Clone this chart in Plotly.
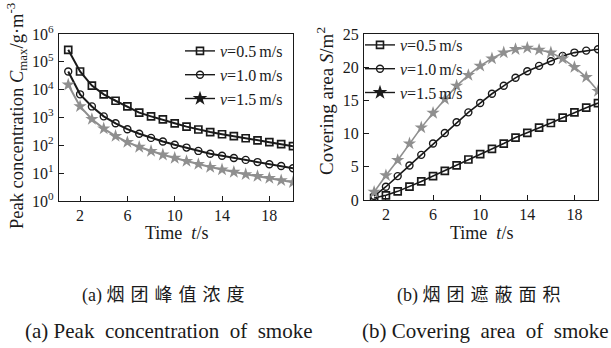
import plotly.graph_objects as go

t = list(range(1, 21))

# Panel (a): peak concentration (g/m^3)
conc_v05 = [2.7e5, 4.5e4, 1.4e4, 6.8e3, 4.0e3, 2.5e3, 1.5e3, 1.1e3, 850, 620,
            470, 370, 300, 250, 215, 180, 150, 130, 110, 93]
conc_v10 = [4.5e4, 6.8e3, 2.5e3, 1.1e3, 620, 380, 260, 185, 138, 105,
            83, 63, 50, 42, 35, 30, 25, 21, 18, 15]
conc_v15 = [1.5e4, 2.5e3, 870, 400, 215, 130, 87, 62, 46, 35,
            27, 21, 16.6, 13.5, 11, 9.1, 7.8, 6.6, 5.5, 4.7]

# Panel (b): covering area (m^2)
area_v05 = [0.3, 0.7, 1.3, 2.0, 2.8, 3.6, 4.4, 5.2, 6.1, 6.9,
            7.7, 8.5, 9.4, 10.1, 10.9, 11.6, 12.4, 13.2, 13.9, 14.6]
area_v10 = [0.6, 2.0, 3.6, 5.2, 6.8, 8.5, 10.1, 11.7, 13.2, 14.6,
            16.0, 17.2, 18.4, 19.4, 20.2, 20.9, 21.7, 22.2, 22.5, 22.7]
area_v15 = [1.2, 3.7, 6.0, 8.5, 10.9, 13.1, 15.2, 17.2, 18.8, 20.2,
            21.3, 22.2, 22.7, 22.9, 22.6, 22.2, 21.3, 20.0, 18.5, 16.4]

labels = ["<i>v</i>=0.5\u2009m/s", "<i>v</i>=1.0\u2009m/s", "<i>v</i>=1.5\u2009m/s"]
x_tickvals = [2, 6, 10, 14, 18]
y_tickvals = [1, 10, 100, 1e3, 1e4, 1e5, 1e6]
y_ticktext = ["10<sup>%d</sup>" % i for i in range(7)]
area_ticks = [0, 5, 10, 15, 20, 25]

FONT = "Liberation Serif, Times New Roman, serif"
BLACK = "#1a1a1a"
GRAY = "#8f8f8f"

styles = [
    dict(color=BLACK, marker=dict(symbol="square-open", size=7, color=BLACK, line=dict(width=1.7, color=BLACK))),
    dict(color=BLACK, marker=dict(symbol="circle-open", size=7, color=BLACK, line=dict(width=1.4, color=BLACK))),
    dict(color=GRAY, marker=dict(symbol="star", size=10, color=GRAY, line=dict(width=0))),
]

fig = go.Figure()

series_a = [conc_v05, conc_v10, conc_v15]
series_b = [area_v05, area_v10, area_v15]

for i, (ya, yb) in enumerate(zip(series_a, series_b)):
    st = styles[i]
    fig.add_trace(go.Scatter(x=t, y=ya, mode="lines+markers", line=dict(color=st["color"], width=2),
                             marker=st["marker"], showlegend=False, xaxis="x", yaxis="y"))
    fig.add_trace(go.Scatter(x=t, y=yb, mode="lines+markers", line=dict(color=st["color"], width=1.6),
                             marker=st["marker"], showlegend=False, xaxis="x2", yaxis="y2"))

# legend entries (black symbols, as in the reference)
leg_markers = [
    dict(symbol="square-open", size=7, color=BLACK, line=dict(width=1.6, color=BLACK)),
    dict(symbol="circle-open", size=7, color=BLACK, line=dict(width=1.4, color=BLACK)),
    dict(symbol="star", size=11, color=BLACK, line=dict(width=0)),
]
for legname, xa, ya in [("legend", "x", "y"), ("legend2", "x2", "y2")]:
    for lab, mk in zip(labels, leg_markers):
        fig.add_trace(go.Scatter(x=[None], y=[None], mode="lines+markers", name=lab,
                                 line=dict(color=BLACK, width=1.4), marker=mk,
                                 legend=legname, xaxis=xa, yaxis=ya))

axis_common = dict(showline=True, linecolor=BLACK, linewidth=1.2, mirror=True, automargin=False,
                   ticks="inside", ticklen=5, tickcolor=BLACK, showgrid=False, zeroline=False,
                   tickfont=dict(family=FONT, size=16, color=BLACK))

fig.update_layout(
    width=611, height=348,
    margin=dict(l=0, r=0, t=0, b=0),
    paper_bgcolor="white", plot_bgcolor="white",
    font=dict(family=FONT, size=16, color=BLACK),
    xaxis=dict(domain=[59/611, 293/611], range=[0.22, 20], tickvals=x_tickvals, anchor="y", **axis_common),
    yaxis=dict(domain=[1-201/348, 1-34/348], type="log", range=[0, 6], tickvals=y_tickvals,
               ticktext=y_ticktext, anchor="x", ticklabelstandoff=1, **axis_common),
    xaxis2=dict(domain=[364/611, 598/611], range=[0.14, 20], tickvals=x_tickvals, anchor="y2", **axis_common),
    yaxis2=dict(domain=[1-200/348, 1-34/348], range=[0, 25], tickvals=area_ticks,
                anchor="x2", ticklabelstandoff=1, **axis_common),
    legend=dict(x=180/611, y=1-34/348, xanchor="left", yanchor="top", bgcolor="rgba(0,0,0,0)",
                font=dict(family=FONT, size=16, color=BLACK), itemwidth=30, tracegroupgap=0),
    legend2=dict(x=360/611, y=1-28/348, xanchor="left", yanchor="top", bgcolor="rgba(0,0,0,0)",
                 font=dict(family=FONT, size=16, color=BLACK), itemwidth=30, tracegroupgap=0),
)

NB = "\u00a0"
SP = "\u2004"
annotations = [
    dict(text="Peak concentration <i>C</i><sub>max</sub>/g·m<sup>-3</sup>", x=17/611, y=1-116/348,
         textangle=-90, size=18.5),
    dict(text="Covering area <i>S</i>/m<sup>2</sup>", x=325/611, y=1-101/348,
         textangle=-90, size=19),
    dict(text="Time" + NB * 2 + "<i>t</i>/s", x=176/611, y=1-233/348, size=18),
    dict(text="Time" + NB * 2 + "<i>t</i>/s", x=481/611, y=1-233/348, size=18),
    dict(text="(a)" + NB + SP.join("烟团峰值浓度"), x=163/611, y=1-295/348, size=18,
         family="Liberation Serif, Noto Sans CJK SC"),
    dict(text="(b)" + NB + SP.join("烟团遮蔽面积"), x=479/611, y=1-295/348, size=18,
         family="Liberation Serif, Noto Sans CJK SC"),
    dict(text="(a) Peak" + NB * 2 + "concentration" + NB * 2 + "of" + NB * 2 + "smoke",
         x=168/611, y=1-331/348, size=21),
    dict(text="(b) Covering" + NB * 2 + "area" + NB * 2 + "of" + NB * 2 + "smoke",
         x=485/611, y=1-331/348, size=21),
]
ann_list = []
for a in annotations:
    ann_list.append(dict(text=a["text"], x=a["x"], y=a["y"], textangle=a.get("textangle", 0),
                         xref="paper", yref="paper", showarrow=False, xanchor="center", yanchor="middle",
                         font=dict(family=a.get("family", FONT), size=a["size"], color=BLACK)))
fig.update_layout(annotations=ann_list)

fig.write_html("out.html", config={"displayModeBar": False},
               post_script="document.body.style.margin='0';document.body.style.overflow='hidden';")
